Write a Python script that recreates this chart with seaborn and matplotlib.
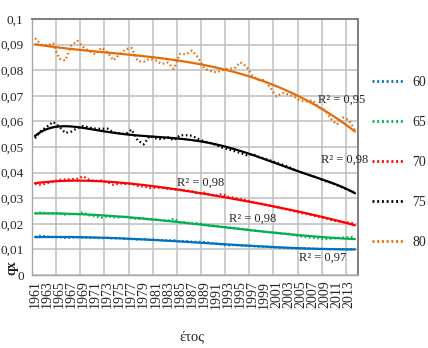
import numpy as np
import pandas as pd
import matplotlib
matplotlib.use("Agg")
import matplotlib.pyplot as plt
import seaborn as sns
from matplotlib.lines import Line2D
import warnings
warnings.filterwarnings("ignore")

years = list(range(1961, 2015))

q60 = [0.0149, 0.0154, 0.0150, 0.0148, 0.0148, 0.0145, 0.0146, 0.0147, 0.0146, 0.0145,
       0.0145, 0.0144, 0.0145, 0.0143, 0.0144, 0.0141, 0.0140, 0.0138, 0.0141, 0.0137,
       0.0138, 0.0136, 0.0135, 0.0136, 0.0132, 0.0133, 0.0130, 0.0129, 0.0129, 0.0126,
       0.0122, 0.0119, 0.0116, 0.0117, 0.0115, 0.0114, 0.0113, 0.0111, 0.0111, 0.0109,
       0.0108, 0.0106, 0.0105, 0.0104, 0.0104, 0.0103, 0.0103, 0.0102, 0.0102, 0.0101,
       0.0102, 0.0101, 0.0101, 0.0100]
q65 = [0.0242, 0.0244, 0.0242, 0.0242, 0.0242, 0.0236, 0.0238, 0.0238, 0.0245, 0.0233,
       0.0229, 0.0224, 0.0229, 0.0226, 0.0225, 0.0229, 0.0222, 0.0219, 0.0221, 0.0216,
       0.0217, 0.0214, 0.0212, 0.0220, 0.0206, 0.0205, 0.0201, 0.0203, 0.0197, 0.0194,
       0.0192, 0.0188, 0.0186, 0.0184, 0.0181, 0.0178, 0.0174, 0.0172, 0.0169, 0.0167,
       0.0165, 0.0162, 0.0161, 0.0156, 0.0151, 0.0148, 0.0145, 0.0143, 0.0140, 0.0142,
       0.0144, 0.0146, 0.0148, 0.0149]
q70 = [0.0356, 0.0352, 0.0358, 0.0365, 0.0372, 0.0373, 0.0374, 0.0376, 0.0385, 0.0372,
       0.0367, 0.0369, 0.0362, 0.0352, 0.0358, 0.0356, 0.0356, 0.0348, 0.0345, 0.0340,
       0.0341, 0.0340, 0.0337, 0.0335, 0.0332, 0.0330, 0.0327, 0.0318, 0.0322, 0.0313,
       0.0310, 0.0317, 0.0305, 0.0302, 0.0296, 0.0292, 0.0286, 0.0281, 0.0276, 0.0270,
       0.0266, 0.0260, 0.0254, 0.0248, 0.0242, 0.0238, 0.0232, 0.0227, 0.0222, 0.0215,
       0.0210, 0.0207, 0.0205, 0.0201]
q75 = [0.0534, 0.0563, 0.0580, 0.0598, 0.0580, 0.0555, 0.0560, 0.0574, 0.0582, 0.0576,
       0.0572, 0.0571, 0.0572, 0.0557, 0.0554, 0.0550, 0.0568, 0.0526, 0.0510, 0.0543,
       0.0534, 0.0530, 0.0538, 0.0526, 0.0546, 0.0546, 0.0544, 0.0532, 0.0522, 0.0516,
       0.0508, 0.0497, 0.0491, 0.0484, 0.0477, 0.0468, 0.0473, 0.0462, 0.0455, 0.0447,
       0.0438, 0.0431, 0.0422, 0.0411, 0.0402, 0.0394, 0.0386, 0.0377, 0.0367, 0.0361,
       0.0351, 0.0341, 0.0331, 0.0322]
q80 = [0.0925, 0.0900, 0.0897, 0.0905, 0.0845, 0.0838, 0.0895, 0.0915, 0.0890, 0.0874,
       0.0862, 0.0888, 0.0870, 0.0838, 0.0862, 0.0882, 0.0887, 0.0836, 0.0833, 0.0845,
       0.0838, 0.0824, 0.0830, 0.0805, 0.0864, 0.0862, 0.0877, 0.0850, 0.0808, 0.0797,
       0.0791, 0.0800, 0.0806, 0.0807, 0.0831, 0.0815, 0.0778, 0.0762, 0.0762, 0.0730,
       0.0697, 0.0711, 0.0705, 0.0695, 0.0680, 0.0678, 0.0683, 0.0655, 0.0645, 0.0610,
       0.0588, 0.0615, 0.0605, 0.0565]

series_names = ["60", "65", "70", "75", "80"]
series_values = [q60, q65, q70, q75, q80]
r2_labels = ["R² = 0,97", "R² = 0,98", "R² = 0,98", "R² = 0,98", "R² = 0,95"]
ytick_labels = ["0", "0,01", "0,02", "0,03", "0,04", "0,05", "0,06", "0,07", "0,08", "0,09", "0,1"]
xtick_labels = [str(y) for y in years[::2]]
xlabel_text = "έτος"
ylabel_text = "qx"

colors = ["#0070C0", "#00B050", "#FF0000", "#000000", "#E46C0A"]
orders = [3, 3, 4, 6, 3]
# R² label anchors (category index, value)
r2_pos = [(43.7, 0.0068), (32.2, 0.0218), (23.5, 0.0359), (47.4, 0.0449), (46.8, 0.0684)]

frames = []
for name, vals in zip(series_names, series_values):
    frames.append(pd.DataFrame({"idx": np.arange(len(years)), "year": years,
                                "qx": vals, "age": name}))
df = pd.concat(frames, ignore_index=True)

sns.set_style("white")
plt.rcParams["font.family"] = ["Liberation Serif", "DejaVu Serif"]

fig = plt.figure(figsize=(4.28, 3.48), dpi=100)
ax = fig.add_axes([32 / 428, 1 - 275 / 348, 326 / 428, 256 / 348])

for name, c, o in zip(series_names, colors, orders):
    sub = df[df["age"] == name]
    sns.lineplot(data=sub, x="idx", y="qx", color=c, lw=1.6,
                 linestyle=(0, (0.7, 1.2)), ax=ax, legend=False, zorder=3)
    sns.regplot(data=sub, x="idx", y="qx", order=o, ci=None, scatter=False,
                color=c, line_kws={"lw": 1.6, "zorder": 4}, ax=ax, truncate=True)

ax.set_xlim(-0.5, 53.5)
ax.set_ylim(0, 0.1)
ax.set_xticks(np.arange(0, 54, 2))
ax.set_xticklabels(xtick_labels, rotation=90, fontsize=10)
ax.set_xticks(np.arange(-0.5, 54, 4), minor=True)
ax.tick_params(axis="x", which="major", length=0, pad=4)
ax.tick_params(axis="x", which="minor", length=5, color="#A6A6A6", width=1, direction="out")
ax.set_yticks(np.arange(0, 0.1001, 0.01))
ax.set_yticklabels(ytick_labels, fontsize=9.5)
ax.tick_params(axis="y", length=0, pad=6)
ax.grid(which="minor", axis="x", color="#BFBFBF", lw=1.1)
ax.grid(which="major", axis="y", color="#BFBFBF", lw=1.1)
ax.grid(which="major", axis="x", visible=False)
ax.set_axisbelow(True)
ax.set_xlabel("")
ax.set_ylabel("")
for s in ["left", "bottom"]:
    ax.spines[s].set_color("#A6A6A6")
    ax.spines[s].set_linewidth(1)
for s in ["top", "right"]:
    ax.spines[s].set_color("#7F7F7F")
    ax.spines[s].set_linewidth(1.4)

for lbl, (px, py) in zip(r2_labels, r2_pos):
    ax.text(px, py, lbl, fontsize=9, ha="left", va="center", zorder=6)

fig.text(12 / 428, 1 - 268 / 348, ylabel_text, rotation=90, fontsize=10,
         fontweight="bold", ha="center", va="center")
fig.text(192 / 428, 1 - 337 / 348, xlabel_text, fontsize=10.5, ha="center", va="center")

handles = [Line2D([0], [0], color=c, lw=2, linestyle=(0, (0.7, 1.0))) for c in colors]
fig.legend(handles, series_names, loc="upper left",
           bbox_to_anchor=(372 / 428, 1 - 76 / 348), frameon=False, fontsize=10,
           handlelength=2.3, handletextpad=0.6, labelspacing=1.95,
           borderpad=0, borderaxespad=0)

fig.savefig("out.png", dpi=100)
